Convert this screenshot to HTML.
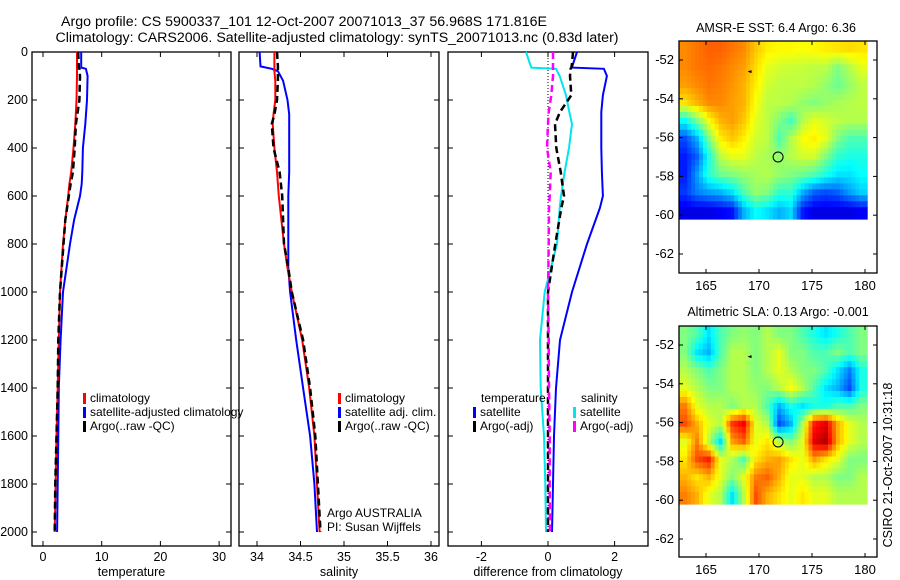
<!DOCTYPE html>
<html><head><meta charset="utf-8"><style>
body{margin:0;background:#fff}
svg{display:block;font-family:"Liberation Sans",sans-serif}
text{fill:#000}
</style></head><body>
<svg id="c" width="900" height="580" viewBox="0 0 900 580" xmlns="http://www.w3.org/2000/svg">
<text x="304" y="26" font-size="14.2" text-anchor="middle">Argo profile: CS 5900337_101 12-Oct-2007 20071013_37 56.968S 171.816E</text>
<text x="337" y="42" font-size="14.2" text-anchor="middle">Climatology: CARS2006. Satellite-adjusted climatology: synTS_20071013.nc (0.83d later)</text>
<text x="776" y="32" font-size="12.5" text-anchor="middle">AMSR-E SST: 6.4  Argo: 6.36</text>
<text x="778" y="316" font-size="12.5" text-anchor="middle">Altimetric SLA: 0.13  Argo: -0.001</text>
<text transform="translate(892,465) rotate(-90)" font-size="12.5" text-anchor="middle">CSIRO 21-Oct-2007 10:31:18</text>
</svg>
<script>
const depthT=[0,65,70,100,200,300,400,500,550,600,700,800,1000,1200,1400,1600,1800,2000];
const tempClim=[5.8,5.8,5.8,5.8,5.7,5.5,5.2,4.8,4.5,4.3,3.8,3.4,2.9,2.7,2.5,2.3,2.15,2.0];
const tempSat=[6.5,6.5,7.3,7.6,7.5,7.2,6.8,6.7,6.6,6.3,5.3,4.6,3.4,3.0,2.7,2.6,2.5,2.4];
const tempArgo=[6.0,6.1,6.2,6.3,6.2,5.6,5.4,5.1,4.7,4.4,3.8,3.5,2.9,2.6,2.5,2.3,2.1,2.0];
const depthS=[0,60,70,80,120,200,260,300,400,500,600,800,900,1000,1200,1400,1600,1800,2000];
const salClim=[34.2,34.2,34.2,34.2,34.21,34.21,34.19,34.18,34.2,34.23,34.25,34.31,34.35,34.40,34.52,34.60,34.66,34.69,34.72];
const salSat=[34.03,34.04,34.17,34.24,34.3,34.35,34.37,34.37,34.37,34.37,34.36,34.36,34.36,34.38,34.45,34.53,34.61,34.66,34.69];
const salArgo=[34.23,34.24,34.24,34.24,34.24,34.23,34.2,34.17,34.19,34.26,34.29,34.31,34.36,34.40,34.53,34.61,34.67,34.70,34.73];
const depthD=[0,50,65,70,100,180,250,300,400,500,600,650,800,1000,1200,1400,1600,1800,2000];
const diffTSat=[0.87,0.75,0.72,1.68,1.77,1.65,1.6,1.6,1.6,1.62,1.65,1.56,1.17,0.72,0.36,0.24,0.18,0.15,0.12];
const diffTArgo=[0.75,0.72,0.7,0.68,0.66,0.7,0.36,0.21,0.25,0.38,0.48,0.4,0.22,0.0,0.0,0.0,0.0,0.0,0.0];
const diffSSat=[-0.66,-0.54,-0.5,0.24,0.35,0.54,0.64,0.72,0.63,0.5,0.39,0.35,0.27,-0.1,-0.24,-0.22,-0.12,-0.08,-0.06];
const diffSArgo=[0.15,0.15,0.15,0.15,0.15,0.1,0.02,0.0,-0.03,0.08,0.05,0.03,0.02,0.0,0.02,0.03,0.05,0.05,0.06];
const depthTicks=[0,200,400,600,800,1000,1200,1400,1600,1800,2000];
const tempTicks=[0,10,20,30];
const salTicks=[34,34.5,35,35.5,36];
const diffTicks=[-2,0,2];
const lonTicks=[165,170,175,180];
const latTicks=[-52,-54,-56,-58,-60,-62];
const argoLon=171.8, argoLat=-57.0;
const sstGrid=[
[0.74,0.76,0.78,0.78,0.76,0.74,0.68,0.64,0.63,0.63,0.62,0.63,0.64,0.65,0.66,0.65],
[0.74,0.76,0.77,0.76,0.74,0.72,0.66,0.6,0.58,0.57,0.57,0.56,0.56,0.5,0.55,0.6],
[0.72,0.74,0.76,0.75,0.73,0.7,0.64,0.58,0.56,0.56,0.56,0.55,0.52,0.48,0.52,0.56],
[0.65,0.7,0.74,0.74,0.72,0.7,0.62,0.56,0.56,0.55,0.52,0.5,0.52,0.54,0.55,0.56],
[0.38,0.5,0.62,0.7,0.72,0.68,0.6,0.56,0.5,0.44,0.55,0.6,0.58,0.56,0.55,0.55],
[0.2,0.3,0.5,0.64,0.68,0.64,0.58,0.56,0.45,0.55,0.62,0.64,0.6,0.5,0.45,0.45],
[0.15,0.22,0.4,0.56,0.6,0.6,0.56,0.54,0.52,0.55,0.58,0.58,0.5,0.42,0.4,0.4],
[0.15,0.28,0.42,0.48,0.5,0.52,0.54,0.55,0.52,0.5,0.48,0.45,0.4,0.35,0.35,0.38],
[0.18,0.25,0.28,0.3,0.35,0.45,0.52,0.5,0.42,0.42,0.3,0.22,0.2,0.22,0.28,0.33],
[0.1,0.1,0.1,0.12,0.14,0.3,0.38,0.35,0.3,0.34,0.15,0.1,0.1,0.1,0.1,0.12]];
const slaGrid=[
[0.5,0.45,0.35,0.45,0.5,0.52,0.5,0.55,0.5,0.5,0.45,0.4,0.35,0.4,0.45,0.5],
[0.5,0.35,0.3,0.45,0.55,0.55,0.5,0.55,0.6,0.5,0.5,0.45,0.45,0.5,0.45,0.5],
[0.55,0.5,0.45,0.5,0.55,0.55,0.5,0.55,0.6,0.55,0.5,0.5,0.45,0.35,0.25,0.4],
[0.6,0.55,0.5,0.5,0.55,0.55,0.52,0.5,0.55,0.62,0.55,0.45,0.35,0.3,0.2,0.4],
[0.75,0.6,0.55,0.55,0.5,0.55,0.55,0.45,0.3,0.4,0.35,0.4,0.4,0.45,0.45,0.5],
[0.8,0.7,0.6,0.55,0.82,0.88,0.6,0.55,0.2,0.3,0.55,0.85,0.9,0.7,0.6,0.55],
[0.6,0.75,0.55,0.35,0.72,0.78,0.6,0.65,0.55,0.5,0.6,0.9,0.95,0.7,0.6,0.55],
[0.65,0.8,0.85,0.6,0.55,0.45,0.65,0.7,0.72,0.65,0.6,0.72,0.65,0.6,0.5,0.5],
[0.7,0.65,0.7,0.6,0.5,0.6,0.75,0.78,0.7,0.6,0.6,0.55,0.55,0.5,0.5,0.55],
[0.75,0.7,0.6,0.55,0.35,0.55,0.8,0.7,0.65,0.6,0.65,0.6,0.6,0.55,0.55,0.55]];

const NS="http://www.w3.org/2000/svg";
const svg=document.getElementById('c');
function el(tag,attrs,parent){const e=document.createElementNS(NS,tag);for(const k in attrs)e.setAttribute(k,attrs[k]);(parent||svg).appendChild(e);return e;}
function txt(x,y,s,size,anchor,parent){const t=el('text',{x:x,y:y,'font-size':size,'text-anchor':anchor||'start'},parent);t.textContent=s;return t;}
const yD=d=>52+d*0.24;

function panel(name,x0,x1,xs,ticks,xlabel,labelFmt){
  const g=el('g',{});
  
  
  const r=el('rect',{x:x0,y:52,width:x1-x0,height:494,fill:'none',stroke:'#000','stroke-width':1.3},g);
  
  
  depthTicks.forEach(d=>{const y=yD(d);el('line',{x1:x0,x2:x0+5,y1:y,y2:y,stroke:'#000'},g);el('line',{x1:x1-5,x2:x1,y1:y,y2:y,stroke:'#000'},g);});
  ticks.forEach(v=>{const x=xs(v);el('line',{x1:x,x2:x,y1:52,y2:57,stroke:'#000'},g);el('line',{x1:x,x2:x,y1:541,y2:546,stroke:'#000'},g);
    const t=txt(x,561,labelFmt(v),12.5,'middle',g);});
  const xl=txt((x0+x1)/2,576,xlabel,12.5,'middle',g);
  
  
  return g;
}
function curve(g,xs,depths,vals,color,w,dash,name){
  const pts=depths.map((d,i)=>xs(vals[i]).toFixed(1)+','+yD(d).toFixed(1)).join(' ');
  const p=el('polyline',{points:pts,fill:'none',stroke:color,'stroke-width':w,'stroke-dasharray':dash||'none'},g);
  
  
}
function legend(g,x,y,color,label){
  const m=el('rect',{x:x,y:y-9,width:3,height:11,fill:color},g);
  
  
  const t=txt(x+7,y,label,12,'start',g);
  
  
}
depthTicks.forEach(d=>{const t=txt(28,yD(d)+4,String(d),12.5,'end');});

const xT=v=>43+v*5.87;
const g1=panel('temperature-panel',32,231,xT,tempTicks,'temperature',v=>String(v));
curve(g1,xT,depthT,tempSat,'#0000ff',2,null,'temp-satellite-line');
curve(g1,xT,depthT,tempClim,'#ff0000',2,null,'temp-climatology-line');
curve(g1,xT,depthT,tempArgo,'#000',2.5,'7,4','temp-argo-line');
legend(g1,83,402,'#ff0000','climatology');
legend(g1,83,416,'#0000ff','satellite-adjusted climatology');
legend(g1,83,430,'#000','Argo(..raw -QC)');
const xS=v=>257+(v-34)*87;
const g2=panel('salinity-panel',239,439,xS,salTicks,'salinity',v=>String(v));
curve(g2,xS,depthS,salSat,'#0000ff',2,null,'sal-satellite-line');
curve(g2,xS,depthS,salClim,'#ff0000',2,null,'sal-climatology-line');
curve(g2,xS,depthS,salArgo,'#000',2.5,'7,4','sal-argo-line');
legend(g2,338,402,'#ff0000','climatology');
legend(g2,338,416,'#0000ff','satellite adj. clim.');
legend(g2,338,430,'#000','Argo(..raw -QC)');
const a1=txt(327,517,'Argo AUSTRALIA',12,'start',g2);
const a2=txt(327,531,'PI: Susan Wijffels',12,'start',g2);
const xD=v=>548+v*33.3;
const g3=panel('diff-panel',448,648,xD,diffTicks,'difference from climatology',v=>String(v));
const zl=el('line',{x1:xD(0),x2:xD(0),y1:52,y2:yD(2000),stroke:'#000','stroke-dasharray':'1,2'},g3);

curve(g3,xD,depthD,diffTSat,'#0000ff',2,null,'diff-temp-satellite-line');
curve(g3,xD,depthD,diffSSat,'#00e5ee',2,null,'diff-sal-satellite-line');
curve(g3,xD,depthD,diffTArgo,'#000',2.5,'7,4','diff-temp-argo-line');
curve(g3,xD,depthD,diffSArgo,'#ff00ff',2.5,'7,4','diff-sal-argo-line');
const lt=txt(481,402,'temperature',12,'start',g3);
const ls=txt(581,402,'salinity',12,'start',g3);
legend(g3,473,416,'#0000ff','satellite');
legend(g3,473,430,'#000','Argo(-adj)');
legend(g3,573,416,'#00e5ee','satellite');
legend(g3,573,430,'#ff00ff','Argo(-adj)');

function jet(v){v=Math.max(0,Math.min(1,v));
  const r=Math.max(0,Math.min(1,1.5-Math.abs(4*v-3)));
  const g=Math.max(0,Math.min(1,1.5-Math.abs(4*v-2)));
  const b=Math.max(0,Math.min(1,1.5-Math.abs(4*v-1)));
  return 'rgb('+Math.round(r*255)+','+Math.round(g*255)+','+Math.round(b*255)+')';}

function sample(grid,fi,fj){
  const nr=grid.length,nc=grid[0].length;
  fi=Math.max(0,Math.min(nr-1,fi));fj=Math.max(0,Math.min(nc-1,fj));
  const i0=Math.floor(fi),j0=Math.floor(fj),i1=Math.min(nr-1,i0+1),j1=Math.min(nc-1,j0+1);
  const a=fi-i0,b=fj-j0;
  return grid[i0][j0]*(1-a)*(1-b)+grid[i0][j1]*(1-a)*b+grid[i1][j0]*a*(1-b)+grid[i1][j1]*a*b;
}

function map(name,top,bottom,grid){
  const lx=lon=>706+(lon-165)*10.6;
  const ly=lat=>top+19+(-52-lat)*19.4;
  const g=el('g',{});
  
  
  const lon0=162.5,lon1=180.2,lat0=-51.0,lat1=-60.2;
  const nr=grid.length,nc=grid[0].length;
  const up=3, NR=nr*up, NC=nc*up;
  const dlon=(lon1-lon0)/NC,dlat=(lat0-lat1)/NR;
  for(let i=0;i<NR;i++)for(let j=0;j<NC;j++){
    const v=sample(grid,(i+0.5)/up-0.5,(j+0.5)/up-0.5);
    const x=lx(lon0+j*dlon),y=ly(lat0-i*dlat);
    const c=el('rect',{x:x.toFixed(1),y:y.toFixed(1),width:(dlon*10.6+0.6).toFixed(1),height:(dlat*19.4+0.6).toFixed(1),fill:jet(v)},g);
    
    
  }
  const f=el('rect',{x:679,y:top,width:198,height:bottom-top,fill:'none',stroke:'#000','stroke-width':1.3},g);
  
  lonTicks.forEach(v=>{const x=lx(v);el('line',{x1:x,x2:x,y1:top,y2:top+4,stroke:'#000'},g);el('line',{x1:x,x2:x,y1:bottom-4,y2:bottom,stroke:'#000'},g);
    const t=txt(x,bottom+17,String(v),13,'middle',g);});
  latTicks.forEach(v=>{const y=ly(v);el('line',{x1:679,x2:683,y1:y,y2:y,stroke:'#000'},g);el('line',{x1:873,x2:877,y1:y,y2:y,stroke:'#000'},g);
    const t=txt(674,y+4,String(v),13,'end',g);});
  const c=el('circle',{cx:lx(argoLon),cy:ly(argoLat),r:5,fill:'none',stroke:'#000'},g);
  
  const a=el('path',{d:'M'+(lx(169.2)-3)+','+ly(-52.6)+' l4,-1.5 l0,3 z',fill:'#000'},g);
  
}
map('sst-map',41,273,sstGrid);
map('sla-map',326,557,slaGrid);
</script>
</body></html>
